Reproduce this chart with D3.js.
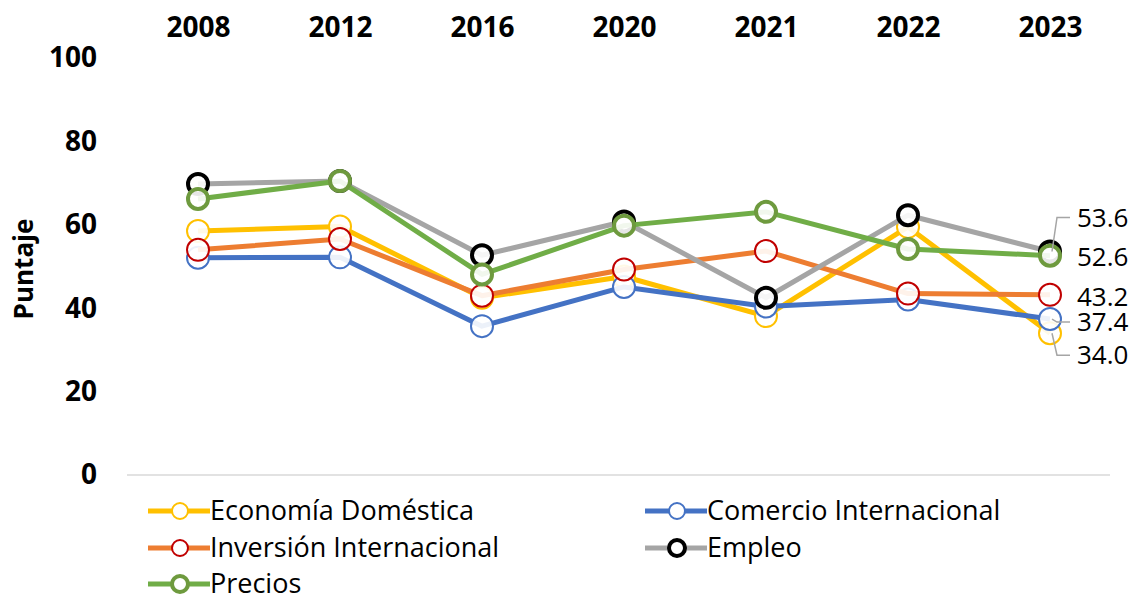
<!DOCTYPE html>
<html>
<head>
<meta charset="utf-8">
<script src="https://cdn.jsdelivr.net/npm/d3@7"></script>
<style>
  body { margin: 0; background: #fff; }
  text { font-family: "Open Sans", "Noto Sans", sans-serif; }
</style>
</head>
<body>
<div class="chart"></div>
<script>
const years = ["2008", "2012", "2016", "2020", "2021", "2022", "2023"];
const yTicks = [0, 20, 40, 60, 80, 100];

const economiaDomestica = [58.5, 59.6, 42.5, 47.6, 38.1, 59.5, 34.0];
const comercioInternacional = [52.1, 52.2, 35.7, 45.1, 40.4, 42.1, 37.4];
const inversionInternacional = [54.0, 56.6, 43.0, 49.3, 53.7, 43.5, 43.2];
const empleo = [69.8, 70.5, 52.7, 60.8, 42.5, 62.3, 53.6];
const precios = [66.2, 70.5, 48.1, 59.8, 63.1, 54.2, 52.6];

const seriesNames = ["Economía Doméstica", "Comercio Internacional", "Inversión Internacional", "Empleo", "Precios"];

const series = [
  { name: seriesNames[0], values: economiaDomestica, line: "#FFC000", mark: "#FFC000", mw: 2, dy: 22, lead: true },
  { name: seriesNames[1], values: comercioInternacional, line: "#4472C4", mark: "#4472C4", mw: 2, dy: 3, lead: true },
  { name: seriesNames[2], values: inversionInternacional, line: "#ED7D31", mark: "#C00000", mw: 2, dy: 2, lead: false },
  { name: seriesNames[3], values: empleo, line: "#A5A5A5", mark: "#000000", mw: 4, dy: -34, lead: true },
  { name: seriesNames[4], values: precios, line: "#70AD47", mark: "#6E9A3E", mw: 4, dy: 1, lead: false }
];

const W = 1141, H = 598;

const svg = d3.select(".chart").append("svg")
  .attr("width", W)
  .attr("height", H);

const x = d3.scalePoint().domain(years).range([127, 1121]).padding(0.5);
const y = d3.scaleLinear().domain([0, 100]).range([475, 58]);

// baseline
svg.append("line")
  .attr("x1", 127).attr("x2", 1110)
  .attr("y1", y(0)).attr("y2", y(0))
  .attr("stroke", "#d9d9d9").attr("stroke-width", 1.5);

// top year labels
svg.append("g")
  .attr("transform", "translate(0, 37)")
  .call(d3.axisTop(x).tickSize(0).tickPadding(0))
  .call(g => g.select(".domain").remove())
  .call(g => g.selectAll("text")
    .attr("font-size", 28).attr("font-weight", "bold").attr("fill", "#000")
    .style("font-family", "'Open Sans', sans-serif"));

// y tick labels
svg.append("g")
  .attr("transform", "translate(97, 0)")
  .call(d3.axisLeft(y).tickValues(yTicks).tickSize(0).tickPadding(0))
  .call(g => g.select(".domain").remove())
  .call(g => g.selectAll("text")
    .attr("font-size", 28).attr("font-weight", "bold").attr("fill", "#000")
    .style("font-family", "'Open Sans', sans-serif"));

svg.append("text")
  .attr("transform", "translate(33, 269) rotate(-90)")
  .attr("text-anchor", "middle")
  .attr("font-size", 26).attr("font-weight", "bold")
  .text("Puntaje");

const line = d3.line()
  .x((d, i) => x(years[i]))
  .y(d => y(d));

series.forEach(s => {
  const g = svg.append("g");
  g.append("path")
    .attr("d", line(s.values))
    .attr("fill", "none")
    .attr("stroke", s.line)
    .attr("stroke-width", 5)
    .attr("stroke-linejoin", "round");
  g.selectAll("circle")
    .data(s.values)
    .enter().append("circle")
    .attr("cx", (d, i) => x(years[i]))
    .attr("cy", d => y(d))
    .attr("r", s.mw > 2 ? 10 : 11)
    .attr("fill", "#fff")
    .attr("fill-opacity", 0.9)
    .attr("stroke", s.mark)
    .attr("stroke-width", s.mw);
});

// end labels for 2023
const last = years.length - 1;
const lx = 1077;
series.forEach(s => {
  const px = x(years[last]), py = y(s.values[last]);
  const ly = py + s.dy;
  if (s.lead) {
    svg.append("polyline")
      .attr("points", [[px + 2, py], [px + 7, ly], [lx - 7, ly]].map(p => p.join(",")).join(" "))
      .attr("fill", "none")
      .attr("stroke", "#A5A5A5")
      .attr("stroke-width", 1.5);
  }
  svg.append("text")
    .attr("x", lx).attr("y", ly)
    .attr("dy", "0.35em")
    .attr("font-size", 26)
    .text(d3.format(".1f")(s.values[last]));
});

// legend
const legendPos = [[180, 511], [677, 511], [180, 548], [677, 548], [180, 584]];
series.forEach((s, i) => {
  const [cx, cy] = legendPos[i];
  const g = svg.append("g");
  g.append("line")
    .attr("x1", cx - 32).attr("x2", cx + 30)
    .attr("y1", cy).attr("y2", cy)
    .attr("stroke", s.line).attr("stroke-width", 5);
  g.append("circle")
    .attr("cx", cx).attr("cy", cy).attr("r", 8)
    .attr("fill", "#fff")
    .attr("stroke", s.mark).attr("stroke-width", s.mw);
  g.append("text")
    .attr("x", cx + 30).attr("y", cy)
    .attr("dy", "0.35em")
    .attr("font-size", 27)
    .text(s.name);
});
</script>
</body>
</html>
